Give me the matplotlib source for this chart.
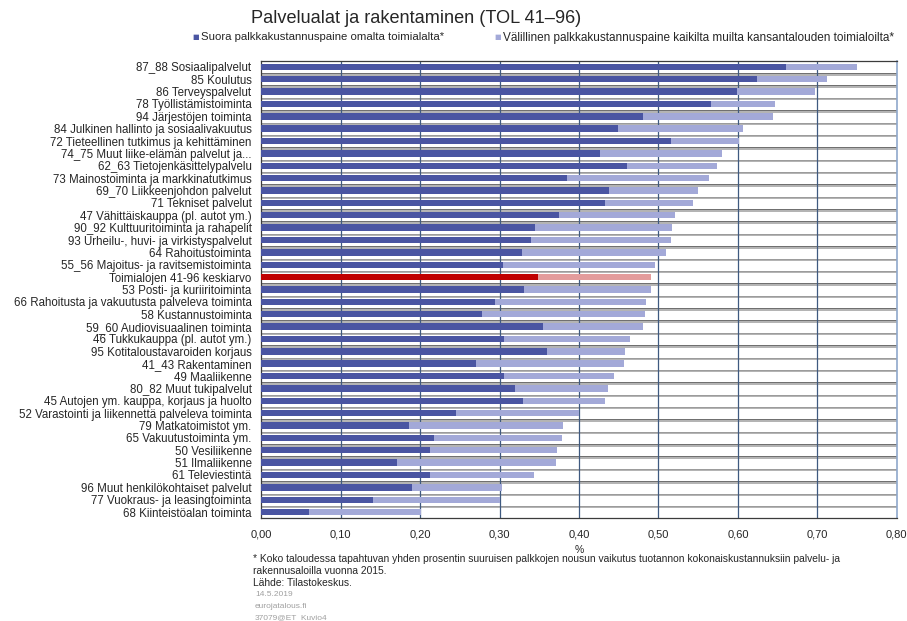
import matplotlib

matplotlib.use("Agg")
import matplotlib.pyplot as plt
import numpy as np

plt.rcParams["font.family"] = ["Liberation Sans", "DejaVu Sans"]

TITLE = "Palvelualat ja rakentaminen (TOL 41\u201396)"
LEGEND_DIRECT = "Suora palkkakustannuspaine omalta toimialalta*"
LEGEND_INDIRECT = "Välillinen palkkakustannuspaine kaikilta muilta kansantalouden toimialoilta*"

categories = [
    "87_88 Sosiaalipalvelut",
    "85 Koulutus",
    "86 Terveyspalvelut",
    "78 Työllistämistoiminta",
    "94 Järjestöjen toiminta",
    "84 Julkinen hallinto ja sosiaalivakuutus",
    "72 Tieteellinen tutkimus ja kehittäminen",
    "74_75 Muut liike-elämän palvelut ja...",
    "62_63 Tietojenkäsittelypalvelu",
    "73 Mainostoiminta ja markkinatutkimus",
    "69_70 Liikkeenjohdon palvelut",
    "71 Tekniset palvelut",
    "47 Vähittäiskauppa (pl. autot ym.)",
    "90_92 Kulttuuritoiminta ja rahapelit",
    "93 Urheilu-, huvi- ja virkistyspalvelut",
    "64 Rahoitustoiminta",
    "55_56 Majoitus- ja ravitsemistoiminta",
    "Toimialojen 41-96 keskiarvo",
    "53 Posti- ja kuriiritoiminta",
    "66 Rahoitusta ja vakuutusta palveleva toiminta",
    "58 Kustannustoiminta",
    "59_60 Audiovisuaalinen toiminta",
    "46 Tukkukauppa (pl. autot ym.)",
    "95 Kotitaloustavaroiden korjaus",
    "41_43 Rakentaminen",
    "49 Maaliikenne",
    "80_82 Muut tukipalvelut",
    "45 Autojen ym. kauppa, korjaus ja huolto",
    "52 Varastointi ja liikennettä palveleva toiminta",
    "79 Matkatoimistot ym.",
    "65 Vakuutustoiminta ym.",
    "50 Vesiliikenne",
    "51 Ilmaliikenne",
    "61 Televiestintä",
    "96 Muut henkilökohtaiset palvelut",
    "77 Vuokraus- ja leasingtoiminta",
    "68 Kiinteistöalan toiminta",
]

# direct wage cost pressure from own industry (%)
direct = [
    0.661, 0.624, 0.599, 0.566, 0.480, 0.449, 0.516, 0.426, 0.461, 0.385,
    0.438, 0.433, 0.375, 0.344, 0.340, 0.328, 0.304, 0.348, 0.331, 0.294,
    0.278, 0.355, 0.306, 0.360, 0.270, 0.306, 0.320, 0.330, 0.245, 0.186,
    0.218, 0.212, 0.171, 0.212, 0.190, 0.140, 0.060,
]

# indirect wage cost pressure from all other industries (%)
indirect = [
    0.089, 0.088, 0.098, 0.081, 0.164, 0.157, 0.085, 0.154, 0.113, 0.178,
    0.112, 0.111, 0.146, 0.173, 0.176, 0.182, 0.192, 0.143, 0.159, 0.190,
    0.205, 0.125, 0.158, 0.098, 0.186, 0.138, 0.117, 0.103, 0.155, 0.194,
    0.160, 0.160, 0.200, 0.131, 0.113, 0.161, 0.141,
]

highlight = "Toimialojen 41-96 keskiarvo"

x_ticks = [0.0, 0.1, 0.2, 0.3, 0.4, 0.5, 0.6, 0.7, 0.8]
x_label = "%"

footnote = [
    "* Koko taloudessa tapahtuvan yhden prosentin suuruisen palkkojen nousun vaikutus tuotannon kokonaiskustannuksiin palvelu- ja",
    "rakennusaloilla vuonna 2015.",
    "Lähde: Tilastokeskus.",
]
small_notes = ["14.5.2019", "eurojatalous.fi", "37079@ET_Kuvio4"]

DARK = "#4a55a2"
LIGHT = "#a3a9d8"
RED = "#c00000"
RED_LIGHT = "#e39c9c"
TEXT = "#262626"
GRID_V = "#3f5a80"

fig = plt.figure(figsize=(9.07, 6.21), dpi=100)
fig.patch.set_facecolor("white")
ax = fig.add_axes([0.2881, 0.1654, 0.7006, 0.7369])

y = np.arange(len(categories))
dark_colors = [RED if c == highlight else DARK for c in categories]
light_colors = [RED_LIGHT if c == highlight else LIGHT for c in categories]

ax.barh(y, direct, height=0.52, color=dark_colors, zorder=3, linewidth=0)
ax.barh(y, indirect, left=direct, height=0.52, color=light_colors, zorder=3, linewidth=0)

# row separators (double line look of the original)
for k in range(len(categories) - 1):
    ax.axhline(k + 0.5, color="#555555", lw=0.6, zorder=1)
    ax.axhline(k + 0.62, color="#a6a6a6", lw=1.2, zorder=1)
for xv in x_ticks[1:-1]:
    ax.axvline(xv, color=GRID_V, lw=0.9, zorder=2)

ax.set_xlim(x_ticks[0], x_ticks[-1])
ax.set_ylim(len(categories) - 0.5, -0.5)
ax.set_xticks(x_ticks)
ax.set_xticklabels([f"{v:.2f}".replace(".", ",") for v in x_ticks])
ax.set_yticks(y)
ax.set_yticklabels(categories)
ax.tick_params(axis="y", length=0, pad=7, labelsize=8.3, labelcolor=TEXT)
ax.tick_params(axis="x", length=0, pad=8, labelsize=8, labelcolor=TEXT)
ax.set_xlabel(x_label, fontsize=7.5, color=TEXT, labelpad=4)

for side in ["left", "top", "bottom"]:
    ax.spines[side].set_color("#3c3c3c")
    ax.spines[side].set_linewidth(0.9)
ax.spines["right"].set_color("#8fa8cc")
ax.spines["right"].set_linewidth(1.2)

fig.text(416.5 / 907, 1 - 18.5 / 621, TITLE, ha="center", va="center", fontsize=13.1, color=TEXT)

leg_y = 1 - 37.5 / 621
fig.text(195.5 / 907, leg_y, "\u25a0", ha="center", va="center", fontsize=5, color=DARK,
         family="DejaVu Sans")
fig.text(201 / 907, leg_y, LEGEND_DIRECT, ha="left", va="center", fontsize=8.2, color=TEXT)
fig.text(498 / 907, leg_y, "\u25a0", ha="center", va="center", fontsize=5, color=LIGHT,
         family="DejaVu Sans")
fig.text(503 / 907, leg_y, LEGEND_INDIRECT, ha="left", va="center", fontsize=8.5, color=TEXT)

for i, line in enumerate(footnote):
    fig.text(253 / 907, 1 - (558.5 + 12 * i) / 621, line, ha="left", va="center",
             fontsize=7.4, color=TEXT)
for i, line in enumerate(small_notes):
    fig.text(255 / 907, 1 - (594.5 + 11.5 * i) / 621, line, ha="left", va="center",
             fontsize=6, color="#a0a0a0")

fig.savefig("out.png", dpi=100, facecolor="white")
